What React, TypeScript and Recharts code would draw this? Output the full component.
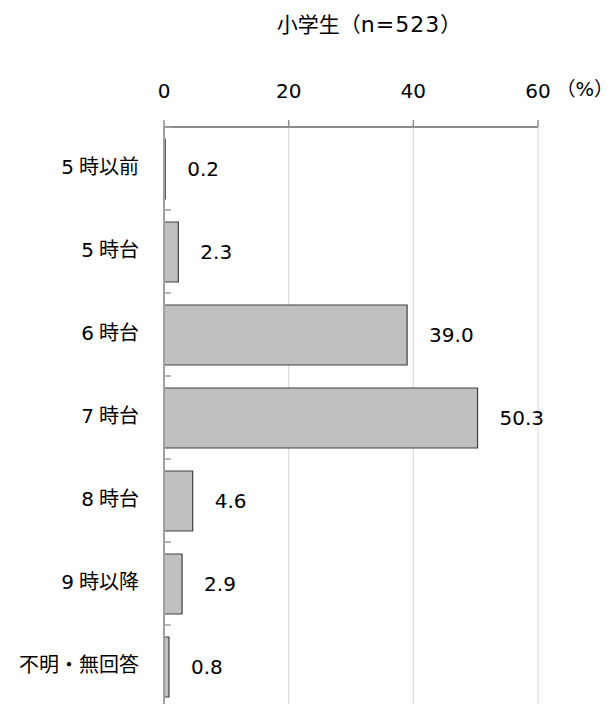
import React from "react";
import { BarChart, Bar, XAxis, YAxis, CartesianGrid, LabelList } from "recharts";

const categories = ["5時以前", "5時台", "6時台", "7時台", "8時台", "9時以降", "不明・無回答"];
const values = [0.2, 2.3, 39.0, 50.3, 4.6, 2.9, 0.8];
const xTicks = [0, 20, 40, 60];

const FONT = "'DejaVu Sans', 'Noto Sans CJK JP', sans-serif";
const FS = 20;

const data = categories.map((name, i) => ({ name, value: values[i] }));

const CategoryTick = (props: any) => {
  const { x, y, payload } = props;
  const half = payload && payload.offset ? payload.offset : 41.5;
  const axisX = x + 25;
  const label: string = String(payload.value);
  const m = label.match(/^(\d+)(.*)$/);
  return (
    <g>
      <text
        x={x}
        y={y - 2}
        textAnchor="end"
        dominantBaseline="central"
        fontSize={FS}
        fontFamily={FONT}
        fill="#000"
      >
        {m ? (
          <>
            <tspan>{m[1]}</tspan>
            <tspan dx={5}>{m[2]}</tspan>
          </>
        ) : (
          label
        )}
      </text>
      <line x1={axisX} x2={axisX + 7} y1={y - half} y2={y - half} stroke="#a0a0a0" strokeWidth={1.5} />
    </g>
  );
};

const App = () => {
  return (
    <div
      style={{
        position: "absolute",
        left: 0,
        top: 0,
        width: 613,
        height: 704,
        overflow: "hidden",
        background: "#fff",
        fontFamily: FONT,
      }}
    >
      <div
        style={{
          position: "absolute",
          left: 369,
          top: 25,
          transform: "translate(-50%, -50%)",
          fontSize: 21,
          whiteSpace: "nowrap",
          lineHeight: 1,
        }}
      >
        小学生（<span style={{ fontSize: 22, letterSpacing: 1 }}>n=523</span>）
      </div>
      <div
        style={{
          position: "absolute",
          left: 556,
          top: 80,
          fontSize: 19.5,
          whiteSpace: "nowrap",
          lineHeight: 1,
        }}
      >
        （%）
      </div>
      <BarChart
        width={613}
        height={712}
        data={data}
        layout="vertical"
        margin={{ top: 87, right: 75, left: 14, bottom: 4 }}
        barSize={60}
      >
        <CartesianGrid horizontal={false} vertical={true} stroke="#d4d4d4" />
        <XAxis
          type="number"
          orientation="top"
          domain={[0, 60]}
          ticks={xTicks}
          height={40}
          axisLine={{ stroke: "#8c8c8c", strokeWidth: 2 }}
          tickLine={{ stroke: "#8c8c8c", strokeWidth: 1.5 }}
          tickSize={7}
          tickMargin={22}
          tick={{ fontSize: FS, fontFamily: FONT, fill: "#000" }}
        />
        <YAxis
          type="category"
          dataKey="name"
          width={150}
          axisLine={{ stroke: "#a0a0a0", strokeWidth: 2 }}
          tickLine={false}
          tickSize={0}
          tickMargin={25}
          tick={<CategoryTick />}
        />
        <Bar
          dataKey="value"
          fill="#c0c0c0"
          stroke="#404040"
          strokeWidth={1.2}
          isAnimationActive={false}
        >
          <LabelList
            dataKey="value"
            position="right"
            offset={22}
            formatter={(v: any) => Number(v).toFixed(1)}
            fontSize={FS}
            fontFamily={FONT}
            fill="#000"
          />
        </Bar>
      </BarChart>
    </div>
  );
};

export default App;
